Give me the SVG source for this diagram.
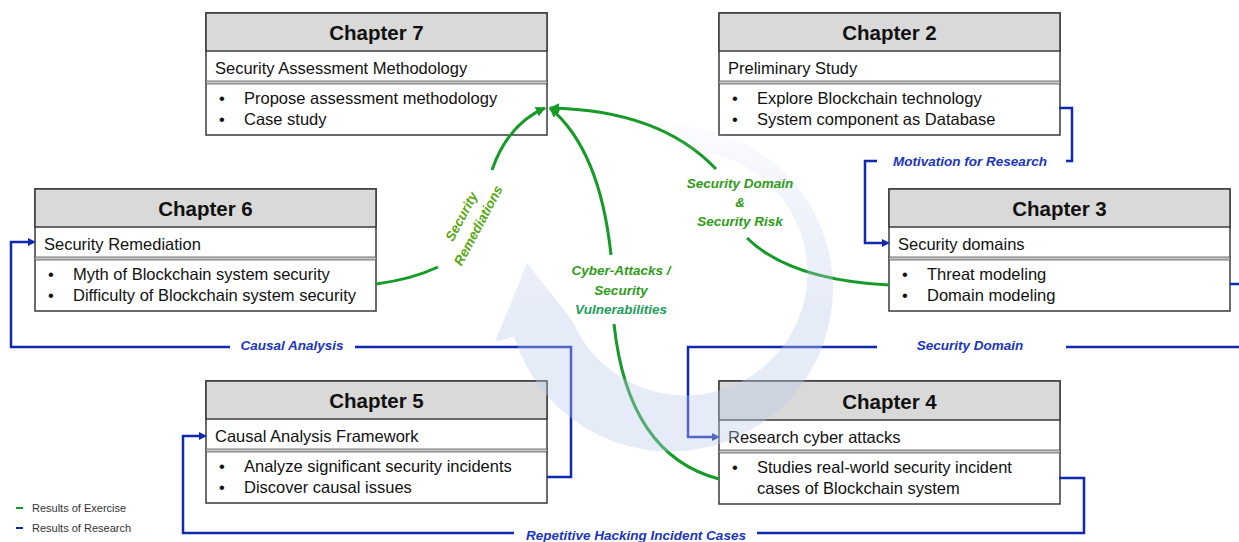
<svg xmlns="http://www.w3.org/2000/svg" width="1239" height="542" viewBox="0 0 1239 542">
<defs>
<style>
.box{fill:#fff;stroke:#3a3a3a;stroke-width:1.5}
.hdr{fill:#d9d9d9;stroke:#3a3a3a;stroke-width:1.5}
.dbl{fill:#c8c8c8;stroke:#555;stroke-width:0.8}
.h{font-family:"Liberation Sans",Arial,sans-serif;font-weight:bold;font-size:20.5px;fill:#111;text-anchor:middle}
.t{font-family:"Liberation Sans",Arial,sans-serif;font-size:16.5px;fill:#111}
.bl{fill:none;stroke:#1128b0;stroke-width:2.5}
.gr{fill:none;stroke:#169a28;stroke-width:3}
.bt{font-family:"Liberation Sans",Arial,sans-serif;font-weight:bold;font-style:italic;font-size:13.5px;fill:#1a35c0;text-anchor:middle}
.gt{font-family:"Liberation Sans",Arial,sans-serif;font-weight:bold;font-style:italic;font-size:13.5px;fill:#2f9c18;text-anchor:middle}
.lg{font-family:"Liberation Sans",Arial,sans-serif;font-size:11px;fill:#333}
</style>
<marker id="ab" markerUnits="userSpaceOnUse" markerWidth="10" markerHeight="10" refX="0" refY="4" orient="auto">
<path d="M0,0 L8,4 L0,8 z" fill="#1128b0"/>
</marker>
<marker id="ag" markerUnits="userSpaceOnUse" markerWidth="12" markerHeight="12" refX="9" refY="5" orient="auto">
<path d="M0,0 L10,5 L0,10 z" fill="#169a28"/>
</marker>
<linearGradient id="rg" gradientUnits="userSpaceOnUse" x1="0" y1="115" x2="0" y2="320">
<stop offset="0" stop-color="#bccbea" stop-opacity="0.04"/>
<stop offset="0.5" stop-color="#bccbea" stop-opacity="0.25"/>
<stop offset="1" stop-color="#bccbea" stop-opacity="0.38"/>
</linearGradient>
</defs>
<rect width="1239" height="542" fill="#fff"/>

<g id="ch7">
<rect class="box" x="206" y="13" width="341" height="122"/>
<rect class="hdr" x="206" y="13" width="341" height="38"/>
<rect class="dbl" x="206" y="81" width="341" height="3"/>
<text class="h" x="376.5" y="40">Chapter 7</text>
<text class="t" x="215" y="74">Security Assessment Methodology</text>
<text class="t" x="219" y="104">•</text><text class="t" x="244" y="104">Propose assessment methodology</text>
<text class="t" x="219" y="125">•</text><text class="t" x="244" y="125">Case study</text>
</g>

<g id="ch2">
<rect class="box" x="719" y="13" width="341" height="122"/>
<rect class="hdr" x="719" y="13" width="341" height="38"/>
<rect class="dbl" x="719" y="81" width="341" height="3"/>
<text class="h" x="889.5" y="40">Chapter 2</text>
<text class="t" x="728" y="74">Preliminary Study</text>
<text class="t" x="732" y="104">•</text><text class="t" x="757" y="104">Explore Blockchain technology</text>
<text class="t" x="732" y="125">•</text><text class="t" x="757" y="125">System component as Database</text>
</g>

<g id="ch6">
<rect class="box" x="35" y="189" width="341" height="122"/>
<rect class="hdr" x="35" y="189" width="341" height="38"/>
<rect class="dbl" x="35" y="257" width="341" height="3"/>
<text class="h" x="205.5" y="216">Chapter 6</text>
<text class="t" x="44" y="250">Security Remediation</text>
<text class="t" x="48" y="280">•</text><text class="t" x="73" y="280">Myth of Blockchain system security</text>
<text class="t" x="48" y="301">•</text><text class="t" x="73" y="301">Difficulty of Blockchain system security</text>
</g>

<g id="ch3">
<rect class="box" x="889" y="189" width="341" height="122"/>
<rect class="hdr" x="889" y="189" width="341" height="38"/>
<rect class="dbl" x="889" y="257" width="341" height="3"/>
<text class="h" x="1059.5" y="216">Chapter 3</text>
<text class="t" x="898" y="250">Security domains</text>
<text class="t" x="902" y="280">•</text><text class="t" x="927" y="280">Threat modeling</text>
<text class="t" x="902" y="301">•</text><text class="t" x="927" y="301">Domain modeling</text>
</g>

<g id="ch5">
<rect class="box" x="206" y="381" width="341" height="122"/>
<rect class="hdr" x="206" y="381" width="341" height="38"/>
<rect class="dbl" x="206" y="449" width="341" height="3"/>
<text class="h" x="376.5" y="408">Chapter 5</text>
<text class="t" x="215" y="442">Causal Analysis Framework</text>
<text class="t" x="219" y="472">•</text><text class="t" x="244" y="472">Analyze significant security incidents</text>
<text class="t" x="219" y="493">•</text><text class="t" x="244" y="493">Discover causal issues</text>
</g>

<g id="ch4">
<rect class="box" x="719" y="381" width="341" height="123"/>
<rect class="hdr" x="719" y="381" width="341" height="39"/>
<rect class="dbl" x="719" y="450" width="341" height="3"/>
<text class="h" x="889.5" y="409">Chapter 4</text>
<text class="t" x="728" y="443">Research cyber attacks</text>
<text class="t" x="732" y="473">•</text><text class="t" x="757" y="473">Studies real-world security incident</text>
<text class="t" x="757" y="494">cases of Blockchain system</text>
</g>

<g id="connectors">
<path class="bl" d="M1059,108 H1072 V161 H1066"/>
<path class="bl" d="M877,161 H865 V243 H882" marker-end="url(#ab)"/>
<path class="bl" d="M1230,284 H1239"/>
<path class="bl" d="M1239,347 H1066"/>
<path class="bl" d="M877,347 H688 V437 H712" marker-end="url(#ab)"/>
<path class="bl" d="M547,477 H571 V347 H355"/>
<path class="bl" d="M230,347 H11 V242 H28" marker-end="url(#ab)"/>
<path class="bl" d="M1059,478 H1084 V533 H757"/>
<path class="bl" d="M514,533 H183 V436 H199" marker-end="url(#ab)"/>

<path class="gr" d="M376,284 Q413,279 438,267"/>
<path class="gr" d="M492,170 Q508,124 545,108" marker-end="url(#ag)"/>
<path class="gr" d="M611,255 Q600,150 550,108" marker-end="url(#ag)"/>
<path class="gr" d="M614,324 Q628,455 719,479"/>
<path class="gr" d="M716,169 Q660,110 550,108" marker-end="url(#ag)"/>
<path class="gr" d="M747,238 Q790,280 889,285"/>
</g>

<path id="cycle" d="M670,125.5 A163,163 0 1 1 514.2,336.5 L495,342 L527,263 L572,320 A122.4,122.4 0 1 0 685,150.6 Z" fill="url(#rg)"/>

<g id="labels">
<text class="bt" x="970" y="166">Motivation for Research</text>
<text class="bt" x="970" y="350">Security Domain</text>
<text class="bt" x="292" y="350">Causal Analysis</text>
<text class="bt" x="636" y="540">Repetitive Hacking Incident Cases</text>
<g transform="translate(470,221) rotate(-62)">
<text class="gt" x="0" y="-5" style="fill:#58a812">Security</text>
<text class="gt" x="0" y="14" style="fill:#58a812">Remediations</text>
</g>
<text class="gt" x="740" y="188">Security Domain</text>
<text class="gt" x="740" y="207">&amp;</text>
<text class="gt" x="740" y="226">Security Risk</text>
<text class="gt" x="621" y="275">Cyber-Attacks /</text>
<text class="gt" x="621" y="295">Security</text>
<text class="gt" x="621" y="314" style="fill:#1e9e5a">Vulnerabilities</text>
</g>

<g id="legend">
<line x1="16" y1="508" x2="23" y2="508" stroke="#169a28" stroke-width="2"/>
<text class="lg" x="32" y="512">Results of Exercise</text>
<line x1="16" y1="528" x2="23" y2="528" stroke="#1128b0" stroke-width="2"/>
<text class="lg" x="32" y="532">Results of Research</text>
</g>
</svg>
